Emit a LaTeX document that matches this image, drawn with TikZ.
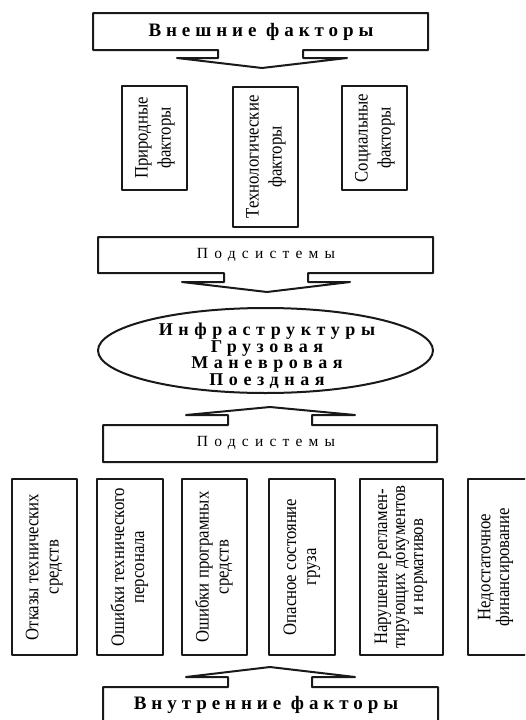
\documentclass[tikz,border=0pt]{standalone}
\usepackage{fontspec}
\usepackage{graphicx}
\setmainfont{Liberation Serif}
\newfontfamily\hdfont[LetterSpace=26]{Liberation Serif}
\newfontfamily\sbfont[LetterSpace=40]{Liberation Serif}
\newfontfamily\elfont[LetterSpace=31]{Liberation Serif}
\newcommand{\vtext}[2]{\scalebox{0.88}[1]{\fontsize{19}{#1}\selectfont\begin{tabular}{@{}c@{}}#2\end{tabular}}}
\tikzset{
  shapeline/.style={draw=black!90, line width=2pt, line join=round},
  vbox/.style={shapeline, rectangle, inner sep=0pt},
  hdtext/.style={inner sep=0pt, font=\hdfont\bfseries\fontsize{19}{22}\selectfont},
  sbtext/.style={inner sep=0pt, font=\sbfont\fontsize{15.5}{18}\selectfont},
  eltext/.style={inner sep=0pt, align=center, font=\elfont\bfseries\fontsize{18}{16.5}\selectfont},
}
\begin{document}
\begin{tikzpicture}[x=1pt, y=-1pt]
\useasboundingbox (0,0) rectangle (525,720);
\clip (0,0) rectangle (525,720);
\fill[white] (0,0) rectangle (525,720);

% --- Top callout: Внешние факторы
\draw[shapeline] (93,13) -- (428,13) -- (428,50) -- (303,50) -- (303,58) -- (347,58) -- (262,68) -- (177,58) -- (218,58) -- (218,50) -- (93,50) -- cycle;
\node[hdtext] (ext) at (261,32) {Внешние факторы};

% --- External factor boxes
\node[vbox, minimum width=65pt, minimum height=104pt] (nat) at (154.5,138) {\rotatebox{90}{\vtext{23}{Природные\\факторы}}};
\node[vbox, minimum width=65pt, minimum height=140pt] (tech) at (265.5,157) {\rotatebox{90}{\vtext{23}{Технологические\\факторы}}};
\node[vbox, minimum width=65pt, minimum height=104pt] (soc) at (374.5,138) {\rotatebox{90}{\vtext{23}{Социальные\\факторы}}};

% --- Subsystems callout (down)
\draw[shapeline] (98,237) -- (433,237) -- (433,273) -- (308,273) -- (308,282) -- (350,282) -- (267,292) -- (182,282) -- (224,282) -- (224,273) -- (98,273) -- cycle;
\node[sbtext] (sub1) at (266,255) {Подсистемы};

% --- Ellipse
\draw[shapeline] (265.5,350.5) ellipse [x radius=167.5pt, y radius=42.5pt];
\node[eltext] (infra) at (267,356) {Инфраструктуры\\Грузовая\\Маневровая\\Поездная};

% --- Subsystems callout (up)
\draw[shapeline] (103,462) -- (103,425) -- (228,425) -- (228,415) -- (186,415) -- (270,407) -- (355,415) -- (312,415) -- (312,425) -- (437,425) -- (437,462) -- cycle;
\node[sbtext] (sub2) at (266,443) {Подсистемы};

% --- Internal factor boxes
\node[vbox, minimum width=65pt, minimum height=176pt] (b1) at (44.5,567) {\rotatebox{90}{\vtext{20}{Отказы технических\\средств}}};
\node[vbox, minimum width=66pt, minimum height=176pt] (b2) at (130,567) {\rotatebox{90}{\vtext{20}{Ошибки технического\\персонала}}};
\node[vbox, minimum width=65pt, minimum height=176pt] (b3) at (214.5,567) {\rotatebox{90}{\vtext{20}{Ошибки програмных\\средств}}};
\node[vbox, minimum width=66pt, minimum height=176pt] (b4) at (302,567) {\rotatebox{90}{\vtext{20}{Опасное состояние\\груза}}};
\node[vbox, minimum width=83pt, minimum height=176pt] (b5) at (401.5,567) {\rotatebox{90}{\vtext{18}{Нарушение регламен-\\тирующих документов\\и нормативов}}};
\node[vbox, minimum width=72pt, minimum height=176pt] (b6) at (504,567) {};
\node[inner sep=0pt] (b6t) at (496,567) {\rotatebox{90}{\vtext{18.5}{Недостаточное\\финансирование}}};

% --- Bottom callout: Внутренние факторы (up)
\draw[shapeline] (103,735) -- (103,687) -- (228,687) -- (228,677) -- (186,677) -- (270,667) -- (355,677) -- (312,677) -- (312,687) -- (438,687) -- (438,735);
\node[hdtext] (int) at (266,705) {Внутренние факторы};
\end{tikzpicture}
\end{document}
